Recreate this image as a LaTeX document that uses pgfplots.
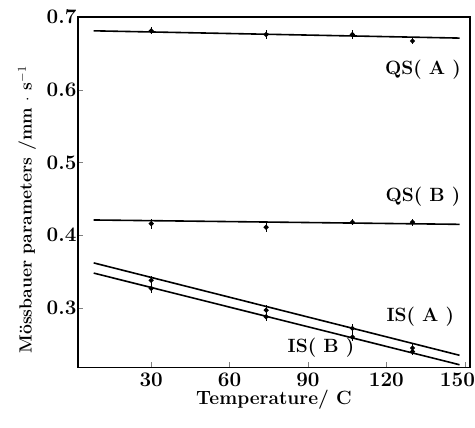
\documentclass[border=0pt]{standalone}
\usepackage{pgfplots}
\pgfplotsset{compat=1.18}
\begin{document}
\begin{tikzpicture}
\useasboundingbox (-58.5pt,-45pt) rectangle (297.75pt,275.75pt);
\begin{axis}[
  at={(0,0)}, anchor=south west,
  scale only axis,
  width=294pt, height=263pt,
  xmin=2, xmax=152, ymin=0.218, ymax=0.7,
  xtick={30,60,90,120,150},
  xticklabels={30,60,90,120,\makebox[0pt]{150\hspace{11pt}}},
  ytick={0.3,0.4,0.5,0.6,0.7},
  yticklabels={0.3,0.4,0.5,0.6,0.7},
  yticklabel style={anchor=east, inner sep=0pt, xshift=-1pt},
  xticklabel style={anchor=north, inner sep=0pt, yshift=-4pt},
  ticklabel style={font=\fontsize{15.5}{18}\selectfont\bfseries},
  xlabel style={font=\Large\bfseries, at={(axis description cs:0.5,-0.091)}, anchor=center},
  ylabel style={font=\fontsize{13.2}{16}\selectfont\bfseries, at={(axis description cs:-0.13,0.45)}, anchor=center},
  tick align=inside, major tick length=4pt,
  xtick pos=bottom, ytick pos=left,
  axis line style={line width=1.1pt},
  xlabel={Temperature/ C},
  ylabel={M\"ossbauer parameters /mm $\cdot$ s$^{-1}$},
  clip=false,
]
% fitted lines
\addplot[black, line width=1.2pt] coordinates {(8,0.681) (148,0.671)};
\addplot[black, line width=1.2pt] coordinates {(8,0.421) (148,0.415)};
\addplot[black, line width=1.2pt] coordinates {(8,0.362) (148,0.235)};
\addplot[black, line width=1.2pt] coordinates {(8,0.348) (148,0.222)};
% data points with error bars
\addplot[black, only marks, mark=*, mark size=1.4pt, line width=0.9pt,
  error bars/.cd, y dir=both, y explicit, error bar style={line width=0.9pt}, error mark=none]
  coordinates {
  (30,0.681) +- (0,0.005) (74,0.676) +- (0,0.006) (107,0.676) +- (0,0.006) (130,0.667) +- (0,0.004)
  (30,0.416) +- (0,0.007) (74,0.411) +- (0,0.007) (107,0.418) +- (0,0.004) (130,0.418) +- (0,0.005)
  (30,0.338) +- (0,0.006) (74,0.297) +- (0,0.007) (107,0.272) +- (0,0.006) (130,0.245) +- (0,0.005)
  (30,0.327) +- (0,0.007) (74,0.288) +- (0,0.006) (107,0.260) +- (0,0.006) (130,0.240) +- (0,0.005)
  };
\node[font=\Large\bfseries] at (axis cs:134,0.627) {QS( A )};
\node[font=\Large\bfseries] at (axis cs:134,0.453) {QS( B )};
\node[font=\Large\bfseries] at (axis cs:133,0.288) {IS( A )};
\node[font=\Large\bfseries] at (axis cs:95,0.246) {IS( B )};
\end{axis}
\end{tikzpicture}
\end{document}
